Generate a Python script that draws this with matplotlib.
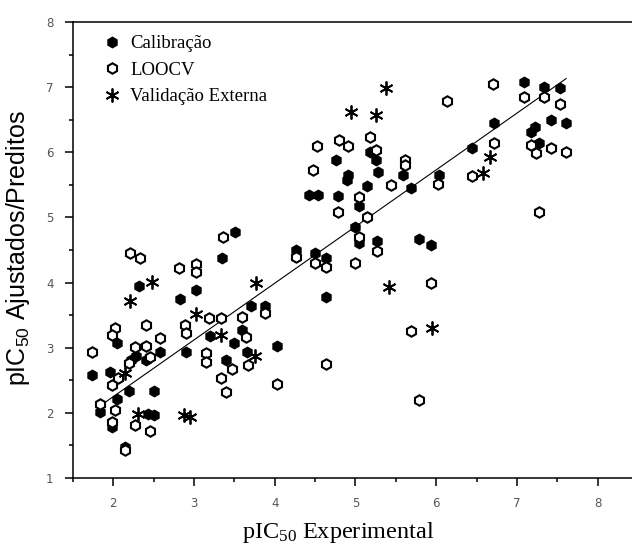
import matplotlib
matplotlib.use("Agg")
import matplotlib.pyplot as plt
import numpy as np

# Calibração (filled)
cal_x = [3.51, 3.35, 2.32, 3.02, 2.82, 2.04, 3.20, 3.59, 3.71, 3.88, 3.49, 2.90, 3.40,
         3.65, 4.03, 1.73, 1.96, 2.19, 2.50, 2.05, 1.84, 1.98, 2.43, 2.50, 2.15, 2.22,
         2.28, 2.58, 2.40,
         4.42, 4.53, 4.78, 5.14, 4.89, 5.04, 5.69, 4.99, 5.04, 5.27, 5.79, 5.94, 4.26,
         4.50, 4.64, 4.64,
         7.09, 7.34, 7.54, 6.72, 7.42, 7.61, 7.23, 7.17, 7.27, 6.44, 6.03,
         4.76, 4.91, 5.18, 5.26, 5.28, 5.59]
cal_y = [4.77, 4.37, 3.94, 3.88, 3.75, 3.08, 3.18, 3.27, 3.64, 3.64, 3.07, 2.93, 2.81,
         2.93, 3.02, 2.58, 2.62, 2.33, 2.33, 2.21, 2.01, 1.79, 1.98, 1.96, 1.47, 2.81,
         2.88, 2.93, 2.81,
         5.34, 5.34, 5.33, 5.48, 5.57, 5.17, 5.45, 4.85, 4.61, 4.64, 4.67, 4.57, 4.50,
         4.45, 4.37, 3.78,
         7.08, 7.00, 6.99, 6.45, 6.49, 6.45, 6.39, 6.31, 6.14, 6.06, 5.65,
         5.88, 5.65, 6.00, 5.88, 5.70, 5.65]

# LOOCV (open)
loo_x = [3.36, 2.21, 2.33, 2.81, 3.02, 3.02, 3.18, 3.33, 1.73, 2.02, 1.98, 2.41, 2.89,
         2.90, 3.64, 3.59, 3.88, 3.15, 3.15, 3.47, 3.67, 4.03, 3.33, 3.40, 2.06, 1.98,
         1.84, 2.02, 1.98, 2.27, 2.46, 2.15, 2.19, 2.41, 2.27, 2.58, 2.46,
         5.44, 5.04, 4.78, 6.02, 5.14, 5.04, 5.27, 4.26, 4.50, 4.64, 4.99, 5.94, 5.69,
         4.64, 5.79,
         6.14, 6.71, 7.09, 7.34, 7.54, 6.72, 7.17, 7.42, 7.24, 7.61, 6.44, 7.27,
         4.52, 4.79, 4.91, 5.18, 5.26, 5.61, 5.61, 4.48]
loo_y = [4.70, 4.45, 4.37, 4.22, 4.28, 4.16, 3.45, 3.45, 2.93, 3.31, 3.19, 3.35, 3.35,
         3.22, 3.16, 3.47, 3.53, 2.92, 2.78, 2.67, 2.73, 2.45, 2.53, 2.32, 2.53, 2.42,
         2.13, 2.04, 1.86, 1.81, 1.72, 1.43, 2.76, 3.02, 3.01, 3.15, 2.85,
         5.50, 5.31, 5.08, 5.51, 5.00, 4.70, 4.48, 4.39, 4.30, 4.24, 4.30, 3.99, 3.25,
         2.75, 2.19,
         6.79, 7.05, 6.85, 6.85, 6.74, 6.14, 6.11, 6.06, 5.99, 6.00, 5.63, 5.08,
         6.10, 6.19, 6.10, 6.23, 6.03, 5.88, 5.80, 5.73]

# Validação Externa (stars)
val_x = [2.48, 2.21, 3.03, 3.33, 3.77, 2.15, 2.30, 2.87, 2.95, 3.75,
         5.41, 5.95, 6.67, 6.58, 4.94, 5.26, 5.38]
val_y = [4.01, 3.71, 3.51, 3.19, 3.99, 2.61, 1.98, 1.96, 1.93, 2.88,
         3.93, 3.31, 5.93, 5.68, 6.62, 6.57, 6.99]

# fitted line
fit_slope = 0.87
fit_intercept = 0.51
fit_range = [1.81, 7.61]

fig = plt.figure(figsize=(6.32, 5.46), dpi=100)
ax = fig.add_axes([73/632, 68/546, 559/632, 456/546])

fx = np.array(fit_range)
ax.plot(fx, fit_slope*fx + fit_intercept, color='black', lw=0.8, zorder=1)

ax.plot(cal_x, cal_y, linestyle='none', marker='h', ms=7.5, mfc='black', mec='black',
        label='Calibração', zorder=3)
ax.plot(loo_x, loo_y, linestyle='none', marker='h', ms=7.5, mfc='white', mec='black',
        mew=1.5, label='LOOCV', zorder=3)
ax.plot(val_x, val_y, linestyle='none', marker=(6, 2, 0), ms=10, mec='black',
        mew=1.3, label='Validação Externa', zorder=3)

ax.set_xlim(1.5, 1.5 + 559/80.7)
ax.set_ylim(1, 8)
ax.set_xticks([2, 3, 4, 5, 6, 7, 8])
ax.set_xticks(np.arange(1.5, 8.5, 0.5), minor=True)
ax.set_yticks([1, 2, 3, 4, 5, 6, 7, 8])
ax.set_yticks(np.arange(1, 8.01, 0.5), minor=True)
ax.tick_params(which='major', direction='out', length=6, width=1.1,
               labelsize=8.5, labelcolor='#555555', pad=8)
ax.tick_params(which='minor', direction='out', length=3, width=1.1)
ax.spines['right'].set_visible(False)
for s in ['left', 'bottom', 'top']:
    ax.spines[s].set_linewidth(1.1)

ax.set_xlabel(r'pIC$\mathregular{_{50}}$ Experimental', family='Liberation Serif',
              fontsize=17.5)
ax.xaxis.set_label_coords((338 - 73)/559, -(520 - 478)/456)
ax.set_ylabel(r'pIC$\mathregular{_{50}}$ Ajustados/Preditos', family='Liberation Sans',
              fontsize=18)
ax.yaxis.set_label_coords((32 - 73)/559, 0.505)

ax.legend(loc='upper left', bbox_to_anchor=(0.022, 1.008), frameon=False,
          prop={'family': 'Liberation Serif', 'size': 13.5},
          handlelength=1.0, handletextpad=0.5, labelspacing=0.5)

fig.savefig('out.png', dpi=100)
